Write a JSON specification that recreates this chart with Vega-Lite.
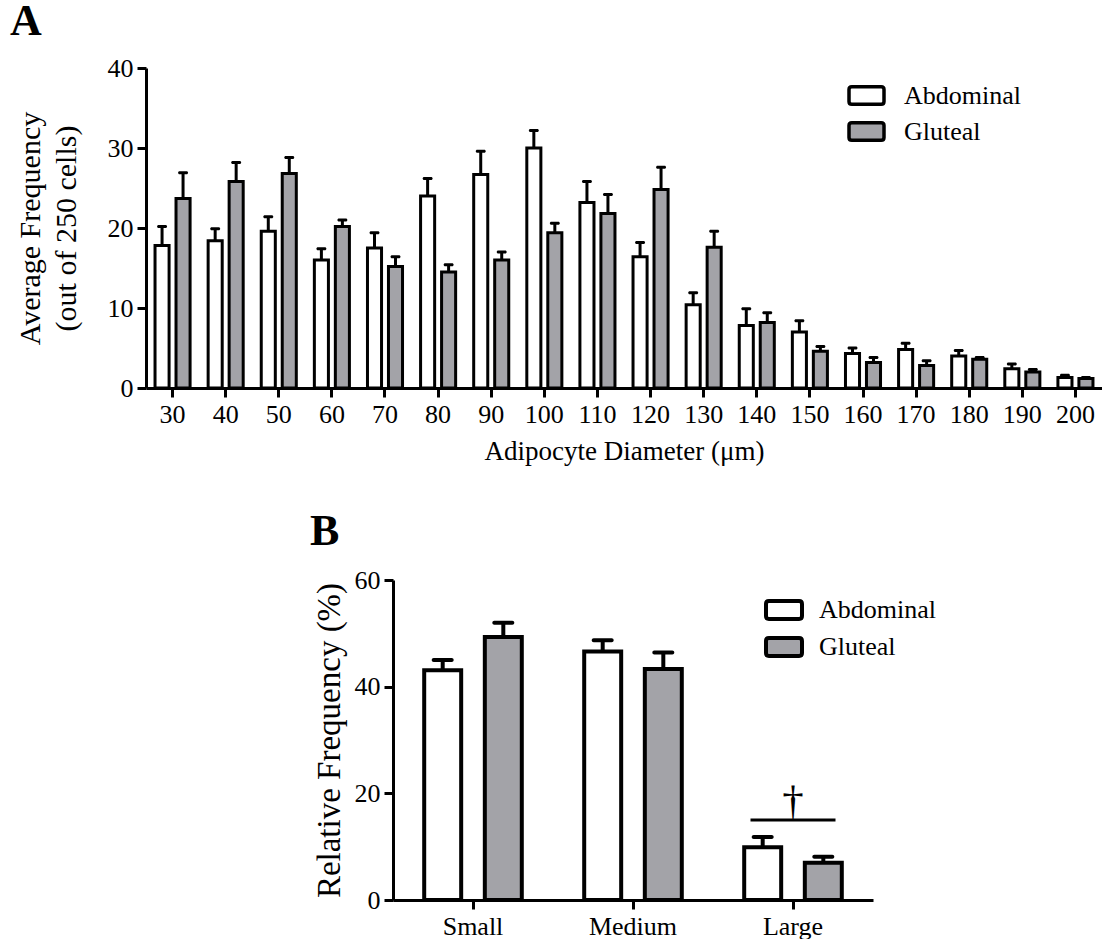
{
  "$schema": "https://vega.github.io/schema/vega-lite/v6.json",
  "padding": {"left": 10, "top": 0, "right": 0, "bottom": 0},
  "background": "white",
  "spacing": 46,
  "resolve": {"scale": {"xOffset": "independent", "fill": "independent"}, "legend": {"fill": "independent"}},
  "config": {
    "view": {"stroke": null},
    "font": "Liberation Serif",
    "axis": {
      "domainColor": "black", "domainWidth": 3, "tickColor": "black", "tickWidth": 3, "tickSize": 9,
      "labelFont": "Liberation Serif", "labelFontSize": 26, "labelColor": "black", "labelPadding": 4,
      "titleFont": "Liberation Serif", "titleFontSize": 27, "titleFontWeight": "normal", "titleColor": "black",
      "grid": false
    },
    "legend": {
      "labelFont": "Liberation Serif", "labelFontSize": 26, "labelColor": "black",
      "symbolType": "M-0.84,-0.5H0.84Q1,-0.5 1,-0.34V0.34Q1,0.5 0.84,0.5H-0.84Q-1,0.5 -1,0.34V-0.34Q-1,-0.5 -0.84,-0.5Z",
      "symbolSize": 1225, "symbolStrokeColor": "black", "symbolStrokeWidth": 3.5,
      "symbolOpacity": 1, "padding": 0, "labelOffset": 18, "rowPadding": 0
    }
  },
  "datasets": {
    "dist": [
      {"d": 30, "site": "Abdominal", "v": 17.8, "hi": 20.2}, {"d": 30, "site": "Gluteal", "v": 23.7, "hi": 26.9},
      {"d": 40, "site": "Abdominal", "v": 18.4, "hi": 19.9}, {"d": 40, "site": "Gluteal", "v": 25.8, "hi": 28.2},
      {"d": 50, "site": "Abdominal", "v": 19.6, "hi": 21.4}, {"d": 50, "site": "Gluteal", "v": 26.8, "hi": 28.8},
      {"d": 60, "site": "Abdominal", "v": 16.0, "hi": 17.4}, {"d": 60, "site": "Gluteal", "v": 20.2, "hi": 21.0},
      {"d": 70, "site": "Abdominal", "v": 17.5, "hi": 19.4}, {"d": 70, "site": "Gluteal", "v": 15.2, "hi": 16.4},
      {"d": 80, "site": "Abdominal", "v": 24.0, "hi": 26.2}, {"d": 80, "site": "Gluteal", "v": 14.5, "hi": 15.4},
      {"d": 90, "site": "Abdominal", "v": 26.7, "hi": 29.6}, {"d": 90, "site": "Gluteal", "v": 16.0, "hi": 17.0},
      {"d": 100, "site": "Abdominal", "v": 30.0, "hi": 32.2}, {"d": 100, "site": "Gluteal", "v": 19.4, "hi": 20.6},
      {"d": 110, "site": "Abdominal", "v": 23.2, "hi": 25.8}, {"d": 110, "site": "Gluteal", "v": 21.8, "hi": 24.2},
      {"d": 120, "site": "Abdominal", "v": 16.4, "hi": 18.2}, {"d": 120, "site": "Gluteal", "v": 24.8, "hi": 27.6},
      {"d": 130, "site": "Abdominal", "v": 10.4, "hi": 11.9}, {"d": 130, "site": "Gluteal", "v": 17.6, "hi": 19.6},
      {"d": 140, "site": "Abdominal", "v": 7.8, "hi": 9.9}, {"d": 140, "site": "Gluteal", "v": 8.2, "hi": 9.4},
      {"d": 150, "site": "Abdominal", "v": 7.0, "hi": 8.4}, {"d": 150, "site": "Gluteal", "v": 4.6, "hi": 5.2},
      {"d": 160, "site": "Abdominal", "v": 4.3, "hi": 5.0}, {"d": 160, "site": "Gluteal", "v": 3.2, "hi": 3.8},
      {"d": 170, "site": "Abdominal", "v": 4.8, "hi": 5.6}, {"d": 170, "site": "Gluteal", "v": 2.8, "hi": 3.4},
      {"d": 180, "site": "Abdominal", "v": 4.0, "hi": 4.7}, {"d": 180, "site": "Gluteal", "v": 3.6, "hi": 3.8},
      {"d": 190, "site": "Abdominal", "v": 2.4, "hi": 3.0}, {"d": 190, "site": "Gluteal", "v": 2.0, "hi": 2.3},
      {"d": 200, "site": "Abdominal", "v": 1.3, "hi": 1.6}, {"d": 200, "site": "Gluteal", "v": 1.2, "hi": 1.3}
    ],
    "rel": [
      {"size": "Small", "site": "Abdominal", "v": 43.1, "hi": 45.0},
      {"size": "Small", "site": "Gluteal", "v": 49.3, "hi": 52.0},
      {"size": "Medium", "site": "Abdominal", "v": 46.6, "hi": 48.7},
      {"size": "Medium", "site": "Gluteal", "v": 43.3, "hi": 46.4},
      {"size": "Large", "site": "Abdominal", "v": 9.9, "hi": 11.8},
      {"size": "Large", "site": "Gluteal", "v": 7.0, "hi": 8.1}
    ],
    "sig": [
      {"size": "Large", "y": 15, "label": "†"}
    ]
  },
  "vconcat": [
    {
      "width": 956,
      "height": 320,
      "title": {"text": "A", "anchor": "start", "frame": "group", "dx": -136, "dy": 42, "offset": 18, "fontSize": 44, "font": "Liberation Serif", "fontWeight": "bold", "color": "black", "baseline": "alphabetic"},
      "data": {"name": "dist"},
      "encoding": {
        "x": {"field": "d", "type": "ordinal", "title": "Adipocyte Diameter (μm)",
              "scale": {"paddingInner": 0.34, "paddingOuter": 0.17},
              "axis": {"labelAngle": 0, "titlePadding": 11}},
        "xOffset": {"field": "site", "type": "nominal", "scale": {"paddingInner": 0.33}}
      },
      "layer": [
        {
          "mark": {"type": "bar", "stroke": "black", "strokeWidth": 3},
          "encoding": {
            "y": {"field": "v", "type": "quantitative", "title": ["Average Frequency", "(out of 250 cells)"],
                  "scale": {"domain": [0, 40]},
                  "axis": {"values": [0, 10, 20, 30, 40], "titlePadding": 26, "titleLineHeight": 36, "titleFontSize": 30}},
            "fill": {"field": "site", "type": "nominal", "scale": {"domain": ["Abdominal", "Gluteal"], "range": ["white", "#a3a3a8"]},
                     "legend": {"title": null, "orient": "none", "legendX": 701, "legendY": 8}}
          }
        },
        {
          "mark": {"type": "rule", "color": "black", "strokeWidth": 3},
          "encoding": {"y": {"field": "v", "type": "quantitative"}, "y2": {"field": "hi"}}
        },
        {
          "mark": {"type": "tick", "color": "black", "opacity": 1, "size": 10, "thickness": 3, "cornerRadius": 1.5},
          "encoding": {"y": {"field": "hi", "type": "quantitative"}}
        }
      ]
    },
    {
      "spacing": 0,
      "hconcat": [
        {
          "width": 157,
          "height": 320,
          "data": {"values": []},
          "mark": "point"
        },
        {
          "width": 480,
          "height": 320,
          "title": {"text": "B", "anchor": "start", "frame": "group", "dx": -83, "dy": 43, "offset": 21, "fontSize": 44, "font": "Liberation Serif", "fontWeight": "bold", "color": "black", "baseline": "alphabetic"},
          "layer": [
            {
              "data": {"name": "rel"},
              "mark": {"type": "bar", "stroke": "black", "strokeWidth": 4},
              "encoding": {
                "x": {"field": "size", "type": "nominal", "title": null, "sort": ["Small", "Medium", "Large"],
                      "scale": {"domain": ["Small", "Medium", "Large"], "paddingInner": 0.39, "paddingOuter": 0.195},
                      "axis": {"labelAngle": 0, "labelPadding": 4}},
                "xOffset": {"field": "site", "type": "nominal", "scale": {"paddingInner": 0.39}},
                "y": {"field": "v", "type": "quantitative", "title": "Relative Frequency (%)",
                      "scale": {"domain": [0, 60]},
                      "axis": {"values": [0, 20, 40, 60], "minExtent": 90, "titleX": -47, "titleY": 160, "titleAngle": 270, "titleBaseline": "bottom", "titleAlign": "center", "titleFontSize": 33}},
                "fill": {"field": "site", "type": "nominal", "scale": {"domain": ["Abdominal", "Gluteal"], "range": ["white", "#a3a3a8"]},
                         "legend": {"title": null, "orient": "none", "legendX": 618, "legendY": 10, "symbolStrokeWidth": 4, "symbolSize": 1296, "labelOffset": 15}}
              }
            },
            {
              "data": {"name": "rel"},
              "mark": {"type": "rule", "color": "black", "strokeWidth": 4},
              "encoding": {
                "x": {"field": "size", "type": "nominal", "sort": ["Small", "Medium", "Large"]},
                "xOffset": {"field": "site", "type": "nominal"},
                "y": {"field": "v", "type": "quantitative"}, "y2": {"field": "hi"}
              }
            },
            {
              "data": {"name": "rel"},
              "mark": {"type": "tick", "color": "black", "opacity": 1, "size": 22, "thickness": 4, "cornerRadius": 2},
              "encoding": {
                "x": {"field": "size", "type": "nominal", "sort": ["Small", "Medium", "Large"]},
                "xOffset": {"field": "site", "type": "nominal"},
                "y": {"field": "hi", "type": "quantitative"}
              }
            },
            {
              "data": {"name": "sig"},
              "mark": {"type": "tick", "color": "black", "opacity": 1, "size": 85, "thickness": 3},
              "encoding": {
                "x": {"field": "size", "type": "nominal", "sort": ["Small", "Medium", "Large"]},
                "y": {"field": "y", "type": "quantitative"}
              }
            },
            {
              "data": {"name": "sig"},
              "mark": {"type": "text", "fontSize": 43, "font": "Liberation Serif", "baseline": "alphabetic", "dy": -5, "color": "black"},
              "encoding": {
                "x": {"field": "size", "type": "nominal", "sort": ["Small", "Medium", "Large"]},
                "y": {"field": "y", "type": "quantitative"},
                "text": {"field": "label"}
              }
            }
          ]
        }
      ]
    }
  ]
}
